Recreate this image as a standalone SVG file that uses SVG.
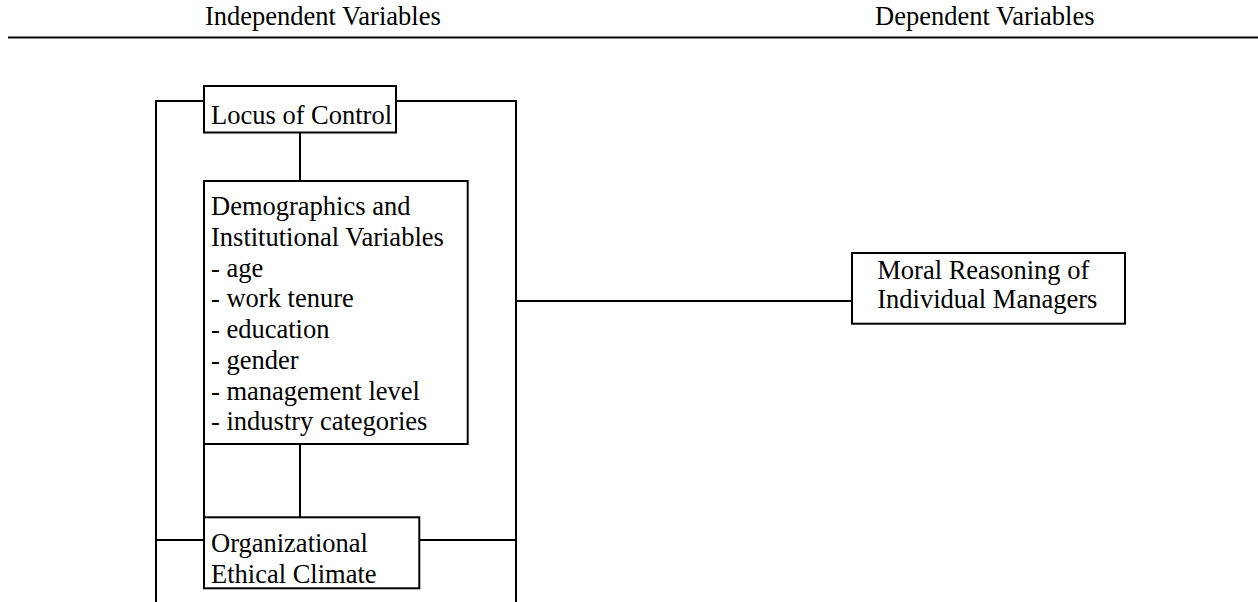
<svg xmlns="http://www.w3.org/2000/svg" width="1258" height="602" viewBox="0 0 1258 602">
<style>
text{font-family:"Liberation Serif","Times New Roman",serif;font-size:26.5px;fill:#000}
.box{fill:#fff;stroke:#000;stroke-width:2}
.ln{stroke:#000;stroke-width:2;fill:none}
</style>
<rect width="1258" height="602" fill="#fff"/>
<g id="header">
<text x="205" y="25">Independent Variables</text>
<text x="875" y="25">Dependent Variables</text>
<line x1="8" y1="37.5" x2="1258" y2="37.5" stroke="#000" stroke-width="2.2"/>
</g>
<g id="connectors">
<polyline class="ln" points="204,101 156,101 156,602"/>
<polyline class="ln" points="396,101 516,101 516,602"/>
<line class="ln" x1="300" y1="132" x2="300" y2="181"/>
<line class="ln" x1="300" y1="444" x2="300" y2="517"/>
<line class="ln" x1="204" y1="444" x2="204" y2="517"/>
<line class="ln" x1="156" y1="540" x2="204" y2="540"/>
<line class="ln" x1="419" y1="540" x2="516" y2="540"/>
<line class="ln" x1="516" y1="301" x2="852" y2="301"/>
</g>
<g id="locus">
<rect class="box" x="204" y="86" width="192" height="46.5"/>
<text x="211" y="124.3">Locus of Control</text>
</g>
<g id="demographics">
<rect class="box" x="204" y="181" width="263.7" height="263"/>
<text x="211" y="215">Demographics and</text>
<text x="211" y="246">Institutional Variables</text>
<text x="211" y="276.7">- age</text>
<text x="211" y="307">- work tenure</text>
<text x="211" y="337.7">- education</text>
<text x="211" y="369">- gender</text>
<text x="211" y="400">- management level</text>
<text x="211" y="430">- industry categories</text>
</g>
<g id="climate">
<rect class="box" x="204" y="517.3" width="215.3" height="71"/>
<text x="211" y="551.7">Organizational</text>
<text x="211" y="583.3">Ethical Climate</text>
</g>
<g id="moral">
<rect class="box" x="852" y="253" width="273" height="70.7"/>
<text x="877.3" y="279.3">Moral Reasoning of</text>
<text x="877.3" y="308.3">Individual Managers</text>
</g>
</svg>
